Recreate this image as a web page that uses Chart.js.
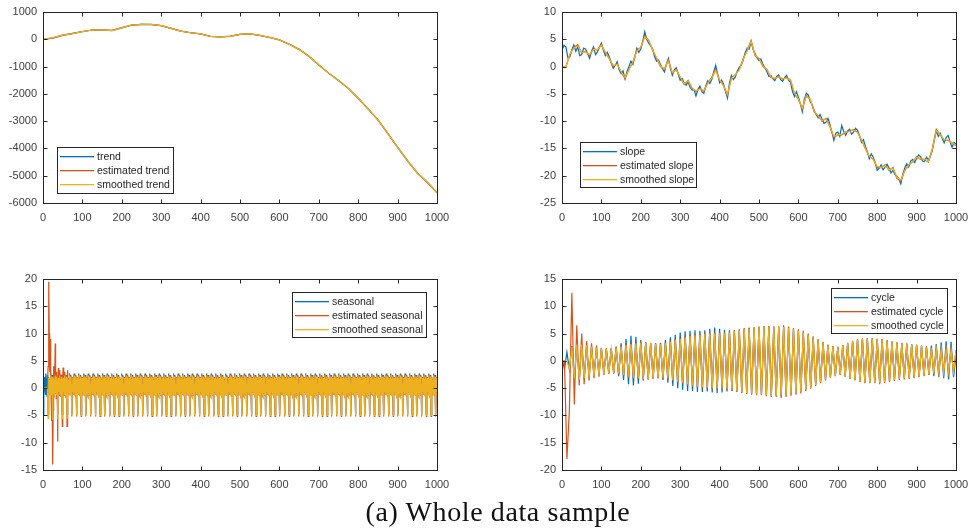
<!DOCTYPE html>
<html>
<head>
<meta charset="utf-8">
<script src="https://cdn.jsdelivr.net/npm/chart.js@4.4.1/dist/chart.umd.min.js"></script>
<style>
  body { margin: 0; background: #fff; }
  #page { position: relative; width: 968px; height: 532px; overflow: hidden; background: #fff; }
  #page canvas { position: absolute; }
  #caption { position: absolute; left: 0; top: 498px; width: 996px; text-align: center; letter-spacing: 0.6px;
    font-family: "Liberation Serif", "DejaVu Serif", serif; font-size: 28px; line-height: 28px; color: #111; }
</style>
</head>
<body>
<div id="page">
  <canvas id="trendChart" width="484" height="250" style="left:0;top:0"></canvas>
  <canvas id="slopeChart" width="484" height="250" style="left:484px;top:0"></canvas>
  <canvas id="seasonChart" width="484" height="250" style="left:0;top:250px"></canvas>
  <canvas id="cycleChart" width="484" height="250" style="left:484px;top:250px"></canvas>
  <div id="caption">(a) Whole data sample</div>
</div>
<script>
// ---- data ----

// trend, sampled every 25
const trendTrue = [0, 50, 150, 215, 285, 340, 340, 325, 425, 520, 550, 540, 500, 400, 300, 240, 195, 110, 90, 115,
  180, 195, 140, 65, -20, -180, -370, -620, -940, -1240, -1510, -1800, -2160, -2550, -2950, -3450, -3960, -4450, -4900, -5240, -5630];
const trendEst = [0, 40, 145, 210, 280, 340, 345, 320, 420, 520, 550, 545, 500, 400, 300, 240, 200, 110, 90, 110,
  180, 195, 140, 70, -20, -180, -370, -620, -940, -1240, -1510, -1800, -2160, -2550, -2950, -3450, -3960, -4450, -4900, -5230, -5620];
const trendSmooth = [0, 60, 150, 210, 280, 340, 345, 320, 420, 520, 550, 545, 500, 400, 300, 240, 200, 110, 90, 110,
  180, 195, 140, 70, -20, -180, -370, -620, -940, -1240, -1510, -1800, -2160, -2550, -2950, -3450, -3960, -4450, -4900, -5230, -5620];

// true slope, sampled every 5 (it is the noisiest line)
const slopeTrue = [
  3, 3.9, 3.6, 1.6, 1.8, 3.1, 4, 2.8, 3.6, 2.0, 2.2, 3.4, 3.2, 2.4, 1.5, 2.8, 3.6, 2.2, 2.7, 3.6,
  4.3, 3.0, 2, 2.6, 1.8, 0.6, -0.3, 0.2, 0.9, -0.6, -1.3, -0.8, -2.3, -0.9, 0, 1.0, 0.4, 1.8, 3.4, 2.6,
  3.2, 4.6, 6.4, 5.0, 4.3, 3.8, 3.3, 1.8, 1, 1.2, 0.4, -0.4, -1, 0.4, 1.5, -0.3, -1.6, -0.6, -0.2, -1.4,
  -2.5, -2.2, -3, -3.4, -2.8, -3.8, -4.3, -4.2, -5.4, -4.2, -3.6, -4.6, -4.9, -3.5, -2.6, -3.1, -2.4, -1.0, 0.2, -1.4,
  -3, -2.5, -3.2, -4.6, -5.8, -3.0, -1.6, -2.4, -1.9, -0.8, -0.1, 0.2, 1.2, 2.6, 3.4, 3.2, 4.5, 3.1, 2.4, 1.6,
  1.1, 1.4, 0.4, -0.2, -0.9, -1.8, -1.6, -2.2, -2.6, -1.8, -1.5, -2.4, -2.7, -2.0, -1.6, -2.5, -2.9, -4.6, -5.5, -4.6,
  -5.6, -6.8, -8.3, -6.0, -4.9, -5.2, -6.4, -7.0, -8, -8.8, -9.4, -8.8, -9.6, -10.4, -10.2, -9.5, -10.6, -12.0, -13.5, -12.2,
  -12, -12.8, -10.8, -11.9, -12.6, -11.8, -11.5, -12.4, -12, -11.3, -11.7, -12.6, -13.9, -13.4, -14.6, -15.6, -16.9, -16.0, -16.6, -17.6,
  -19, -18.6, -18, -18.9, -18.4, -17.9, -18.6, -19.5, -19, -19.8, -20.1, -20.6, -21.5, -19.7, -18.6, -17.8, -18.4, -17.3, -17, -17.6,
  -16.9, -16.2, -16.5, -17.3, -17.4, -16.6, -17.1, -16.4, -15.4, -13.5, -11.8, -12.8, -12.2, -13.2, -14, -13.0, -12.6, -13.8, -14.8, -13.9,
  -14.2];
// estimated and smoothed slope, sampled every 10
const slopeEst = [
  0, 0, 2.2, 3.5, 4, 2.5, 2.8, 2, 3.3, 3,
  4, 2.5, 1.5, 0, 0.5, -1, -2.2, -0.5, 0.8, 3,
  3.5, 5.6, 4.8, 3, 1.5, 0, -0.5, 1.2, -1.2, -0.5,
  -2, -3.3, -2.5, -4, -4.6, -4, -4.5, -3, -2, -0.5,
  -2.5, -3.5, -5.3, -2, -1.5, -0.5, 1.5, 3, 4.8, 2,
  1.5, 0, -0.5, -2, -2.2, -1.8, -2.3, -2, -2.5, -5,
  -6, -7.8, -5.3, -6, -8.3, -9, -10, -9.5, -11, -13,
  -12.5, -12.5, -12, -11.8, -11.5, -12, -13.5, -15, -16.5, -17,
  -18.5, -18.5, -18, -19, -18.5, -20.5, -21, -19, -18, -17.5,
  -16.5, -17, -17, -17.5, -15, -11.5, -12.5, -13.5, -13.5, -14,
  -14.5];
const slopeSmooth = [
  0, 0, 2.3, 3.4, 3.8, 2.6, 2.7, 2.2, 3.1, 3.1,
  3.9, 2.6, 1.4, 0.2, 0.4, -0.9, -2, -0.6, 0.9, 2.8,
  3.6, 5.4, 4.8, 3.1, 1.6, 0.1, -0.4, 1, -1.1, -0.6,
  -1.9, -3.2, -2.6, -3.9, -4.5, -4.1, -4.4, -3.1, -2.1, -0.7,
  -2.4, -3.5, -5.1, -2.2, -1.5, -0.6, 1.4, 2.9, 4.6, 2.1,
  1.5, 0.1, -0.5, -1.9, -2.2, -1.9, -2.2, -2.1, -2.5, -4.8,
  -6, -7.6, -5.4, -6, -8.2, -9, -9.9, -9.6, -11, -12.8,
  -12.5, -12.4, -12, -11.9, -11.6, -12.1, -13.4, -15, -16.4, -17,
  -18.3, -18.5, -18.1, -18.9, -18.6, -20.3, -20.8, -19.1, -18, -17.5,
  -16.6, -16.9, -17, -17.4, -15.1, -11.7, -12.5, -13.4, -13.5, -14,
  -14.4];

// seasonal: one 12-step period after it settles, plus the start-up periods
const seasonPatternTrue = [-4.8, 0.9, 2.0, -0.6, 1.6, -1.1, 2.7, -0.8, 1.9, -1.2, 2.4, 0.6];
const seasonPatternEst = [-5.2, 0.8, 2.0, -0.8, 1.6, -1.2, 2.5, -1.0, 1.8, -1.4, 2.2, 0.5];
const seasonPatternSmooth = [-5.0, 0.8, 1.9, -0.7, 1.5, -1.2, 2.3, -0.9, 1.7, -1.3, 2.1, 0.5];
const seasonStartEst = [
  0, 0, 0, 0, 0, 0, 0, 0, 0, 0, 0, 0,
  4, 12, 19.5, 10, 3, 6, 9, 2, -3, -6, 0, -8,
  -14, -4, 4, -1, 3, 1, 8.2, -1, 3, -2, 2.5, 0.5,
  -9.8, 0.5, 3.7, -1, 2.5, -1.5, 3.3, -1, 2.4, -1.5, 2.5, 0.5,
  -7, 0.8, 3.8, -0.8, 2, -1.3, 3, -1, 2, -1.4, 2.3, 0.5,
  -7, 0.8, 3.3, -0.8, 1.8, -1.2, 2.7, -0.9, 1.8, -1.3, 2.2, 0.5];
const seasonStartSmooth = [
  0, 0, 0, 0, 0, 0, 0, 0, 0, 0, 0, 0,
  -5.6, 0.8, 1.9, -0.7, 1.5, -1.2, 2.3, -0.9, 1.7, -1.3, 2.1, 0.5,
  -5.8, 0.8, 1.9, -0.7, 1.5, -1.2, 2.3, -0.9, 1.7, -1.3, 2.1, 0.5,
  -5.7, 0.8, 1.9, -0.7, 1.5, -1.2, 2.3, -0.9, 1.7, -1.3, 2.1, 0.5,
  -5.6, 0.8, 1.9, -0.7, 1.5, -1.2, 2.3, -0.9, 1.7, -1.3, 2.1, 0.5,
  -5.5, 0.8, 1.9, -0.7, 1.5, -1.2, 2.3, -0.9, 1.7, -1.3, 2.1, 0.5];

// cycle: peaks and troughs, one every 6.25
const cycleTrue = [
  0.5, -1.5, 1.6, -1.6, 2.7, -3.2, 3, -3.5, 3, -3.2, 2.8, -3, 2.6, -2.8, 2.4, -2.6,
  2.3, -2.4, 2.2, -2.3, 2.3, -2.3, 2.6, -2.8, 3.2, -3.5, 4.0, -4.3, 4.6, -4.5, 4.4, -4.2,
  3.8, -3.6, 3.4, -3.4, 3.2, -3.2, 3.2, -3.2, 3.3, -3.5, 3.8, -4.0, 4.3, -4.6, 4.8, -5.0,
  5.2, -5.3, 5.4, -5.5, 5.5, -5.5, 5.6, -5.7, 5.5, -5.7, 5.6, -5.6, 5.9, -5.8, 6.1, -5.9,
  5.9, -5.8, 5.7, -5.6, 5.6, -5.5, 5.6, -5.6, 5.7, -5.8, 5.9, -5.9, 6.0, -6.0, 6.0, -6.1,
  6.2, -6.2, 6.3, -6.3, 6.4, -6.4, 6.3, -6.4, 6.3, -6.4, 6.2, -6.3, 6.0, -6.2, 5.8, -6.0,
  5.5, -5.7, 5.2, -5.3, 4.8, -4.9, 4.3, -4.4, 3.8, -3.9, 3.3, -3.4, 2.9, -3.0, 2.6, -2.7,
  2.5, -2.5, 2.8, -2.8, 3.2, -3.2, 3.6, -3.5, 3.9, -3.8, 4.0, -4.0, 4.1, -4.0, 4.1, -4.0,
  4.0, -4.0, 3.9, -3.9, 3.7, -3.7, 3.5, -3.5, 3.3, -3.3, 3.2, -3.2, 3.1, -3.1, 3.0, -3.0,
  2.9, -2.9, 2.7, -2.7, 2.6, -2.6, 2.8, -2.8, 3.1, -3.0, 3.4, -3.2, 3.6, -3.4, 3.5, -3.0,
  1.0];
const cycleEst = [
  0, 0, -18, -9, 12.5, -8, 6.5, -4.5, 5, -4.3, 3.6, -3.6, 3.2, -3.2, 2.8, -2.9,
  2.4, -2.6, 2.3, -2.4, 2.3, -2.3, 2.5, -2.5, 2.8, -2.8, 3.1, -3.1, 3.3, -3.3, 3.3, -3.3,
  3.4, -3.4, 3.4, -3.4, 3.3, -3.3, 3.2, -3.2, 3.2, -3.3, 3.4, -3.4, 3.7, -3.7, 4.0, -4.0,
  4.2, -4.2, 4.5, -4.5, 4.7, -4.7, 4.9, -4.9, 5.0, -5.0, 5.1, -5.1, 5.2, -5.2, 5.2, -5.2,
  5.2, -5.2, 5.2, -5.3, 5.4, -5.5, 5.6, -5.7, 5.8, -5.9, 6.0, -6.1, 6.1, -6.2, 6.2, -6.3,
  6.3, -6.3, 6.4, -6.5, 6.4, -6.6, 6.3, -6.6, 6.3, -6.8, 6.5, -6.6, 6.3, -6.4, 6.0, -6.2,
  5.8, -6.0, 5.5, -5.5, 5.0, -5.1, 4.5, -4.6, 4.0, -4.1, 3.5, -3.6, 3.0, -3.1, 2.7, -2.8,
  2.6, -2.6, 2.9, -2.9, 3.3, -3.3, 3.7, -3.6, 4.0, -3.9, 4.1, -4.1, 4.2, -4.1, 4.2, -4.1,
  4.1, -4.3, 4.0, -4.1, 3.8, -3.9, 3.6, -3.7, 3.4, -3.5, 3.3, -3.4, 3.2, -3.3, 3.1, -3.2,
  3.0, -3.0, 2.8, -2.8, 2.6, -2.6, 2.4, -2.4, 2.3, -2.3, 2.2, -2.2, 2.1, -2.1, 2.1, -2.1,
  2.0];
const cycleSmooth = [
  0, 0, 0, -1.5, 2.5, -3.2, 3, -3.5, 3, -3.2, 2.8, -3, 2.6, -2.8, 2.4, -2.6,
  2.3, -2.5, 2.2, -2.3, 2.2, -2.2, 2.4, -2.3, 2.6, -2.6, 2.9, -2.9, 3.1, -3.1, 3.2, -3.2,
  3.3, -3.3, 3.3, -3.3, 3.2, -3.2, 3.1, -3.1, 3.1, -3.1, 3.2, -3.2, 3.5, -3.5, 3.8, -3.8,
  4.0, -4.0, 4.3, -4.3, 4.5, -4.5, 4.7, -4.7, 4.8, -4.8, 4.9, -4.9, 5.0, -5.0, 5.0, -5.0,
  5.0, -5.0, 5.0, -5.1, 5.2, -5.3, 5.4, -5.5, 5.6, -5.7, 5.8, -5.9, 5.9, -6.0, 6.0, -6.1,
  6.2, -6.2, 6.3, -6.3, 6.3, -6.4, 6.2, -6.4, 6.2, -6.3, 6.2, -6.3, 6.0, -6.2, 5.8, -6.0,
  5.5, -5.7, 5.2, -5.3, 4.8, -4.9, 4.3, -4.4, 3.8, -3.9, 3.3, -3.4, 2.9, -3.0, 2.6, -2.7,
  2.5, -2.5, 2.8, -2.8, 3.2, -3.2, 3.6, -3.5, 3.9, -3.8, 4.0, -4.0, 4.1, -4.0, 4.1, -4.0,
  4.0, -4.0, 3.9, -3.9, 3.7, -3.7, 3.5, -3.5, 3.3, -3.3, 3.2, -3.2, 3.1, -3.1, 3.0, -3.0,
  2.9, -2.9, 2.7, -2.7, 2.5, -2.5, 2.3, -2.3, 2.2, -2.2, 2.1, -2.1, 2.0, -2.0, 2.0, -2.0,
  1.9];

// x positions of the samples above
const trendX = trendSmooth.map((_, i) => i * 25);
const slopeTrueX = slopeTrue.map((_, i) => i * 5);
const slopeX = slopeSmooth.map((_, i) => i * 10);
const cycleX = cycleSmooth.map((_, i) => i * 6.25);
const seasonX = Array.from({ length: 1000 }, (_, i) => i + 1);

// seasonal series = start-up periods, then the settled period repeated
function seasonSeries(start, pattern) {
  return seasonX.map((_, i) => i < start.length ? start[i] : pattern[i % pattern.length]);
}
const seasonTrue = seasonSeries([], seasonPatternTrue);
const seasonEst = seasonSeries(seasonStartEst, seasonPatternEst);
const seasonSmooth = seasonSeries(seasonStartSmooth, seasonPatternSmooth);

// ---- drawing ----
const BLUE = '#0072BD', ORANGE = '#D95319', YELLOW = '#EDB120';
const COLORS = [BLUE, ORANGE, YELLOW];
const INK = '#262626';

Chart.defaults.font.family = '"Liberation Sans", Arial, sans-serif';
Chart.defaults.font.size = 11;
Chart.defaults.color = '#404040';

// matlab style box with inward ticks on all four sides
const boxTicks = {
  id: 'boxTicks',
  afterDraw(chart) {
    const { ctx, chartArea: a, scales } = chart;
    const L = Math.round(a.left) + 0.5, R = Math.round(a.right) + 0.5;
    const T = Math.round(a.top) + 0.5, B = Math.round(a.bottom) + 0.5;
    ctx.save();
    ctx.strokeStyle = INK;
    ctx.lineWidth = 1;
    ctx.beginPath();
    scales.x.ticks.forEach(t => {
      const px = Math.round(scales.x.getPixelForValue(t.value)) + 0.5;
      ctx.moveTo(px, B); ctx.lineTo(px, B - 4);
      ctx.moveTo(px, T); ctx.lineTo(px, T + 4);
    });
    scales.y.ticks.forEach(t => {
      const py = Math.round(scales.y.getPixelForValue(t.value)) + 0.5;
      ctx.moveTo(L, py); ctx.lineTo(L + 4, py);
      ctx.moveTo(R, py); ctx.lineTo(R - 4, py);
    });
    ctx.stroke();
    ctx.strokeRect(L, T, R - L, B - T);
    ctx.restore();
  }
};

// legend box drawn inside the axes
const boxLegend = {
  id: 'boxLegend',
  afterDraw(chart, args, opts) {
    const { ctx } = chart;
    ctx.save();
    ctx.fillStyle = '#fff';
    ctx.fillRect(opts.x, opts.y, opts.w, opts.h);
    ctx.strokeStyle = INK;
    ctx.lineWidth = 1;
    ctx.strokeRect(opts.x + 0.5, opts.y + 0.5, opts.w, opts.h);
    ctx.font = '10.5px "Liberation Sans", Arial, sans-serif';
    ctx.textBaseline = 'middle';
    chart.data.datasets.forEach((ds, i) => {
      const y = Math.round(opts.y + 9 + i * 14);
      ctx.fillStyle = COLORS[i];
      ctx.fillRect(opts.x + 3, y, 34, 1.3);
      ctx.fillStyle = INK;
      ctx.fillText(ds.label, opts.x + 40, y + 1);
    });
    ctx.restore();
  }
};

function series(label, xs, ys, color, order) {
  return {
    label: label,
    data: xs.map((x, i) => ({ x: x, y: ys[i] })),
    borderColor: color,
    borderWidth: 1.2,
    pointRadius: 0,
    tension: 0,
    order: order
  };
}

function makeChart(id, datasets, yMin, yMax, yStep, box) {
  new Chart(document.getElementById(id), {
    type: 'line',
    data: { datasets: datasets },
    options: {
      responsive: false,
      animation: false,
      events: [],
      layout: { padding: { top: box.top, right: box.right, left: 0, bottom: 0 } },
      scales: {
        x: {
          type: 'linear', min: 0, max: 1000,
          grid: { display: false, drawTicks: false },
          border: { display: false },
          ticks: { stepSize: 100, padding: 8, autoSkip: false, maxRotation: 0, callback: v => String(v) },
          afterFit(s) { s.height = box.xh; s.paddingLeft = 0; s.paddingRight = 0; }
        },
        y: {
          min: yMin, max: yMax,
          grid: { display: false, drawTicks: false },
          border: { display: false },
          ticks: { stepSize: yStep, padding: 6, autoSkip: false, callback: v => String(v) },
          afterFit(s) { s.width = box.yw; s.paddingTop = 0; s.paddingBottom = 0; }
        }
      },
      plugins: {
        legend: { display: false },
        tooltip: { enabled: false },
        boxLegend: box.legend
      }
    },
    plugins: [boxTicks, boxLegend]
  });
}

makeChart('trendChart', [
  series('trend', trendX, trendTrue, BLUE, 3),
  series('estimated trend', trendX, trendEst, ORANGE, 2),
  series('smoothed trend', trendX, trendSmooth, YELLOW, 1)
], -6000, 1000, 1000, { top: 12, right: 47, yw: 43, xh: 47, legend: { x: 57, y: 147, w: 116, h: 46 } });

makeChart('slopeChart', [
  series('slope', slopeTrueX, slopeTrue, BLUE, 3),
  series('estimated slope', slopeX, slopeEst, ORANGE, 2),
  series('smoothed slope', slopeX, slopeSmooth, YELLOW, 1)
], -25, 10, 5, { top: 12, right: 12, yw: 78, xh: 47, legend: { x: 96, y: 142, w: 116, h: 45 } });

makeChart('seasonChart', [
  series('seasonal', seasonX, seasonTrue, BLUE, 3),
  series('estimated seasonal', seasonX, seasonEst, ORANGE, 2),
  series('smoothed seasonal', seasonX, seasonSmooth, YELLOW, 1)
], -15, 20, 5, { top: 29, right: 47, yw: 43, xh: 30, legend: { x: 292, y: 42, w: 134, h: 45 } });

makeChart('cycleChart', [
  series('cycle', cycleX, cycleTrue, BLUE, 3),
  series('estimated cycle', cycleX, cycleEst, ORANGE, 2),
  series('smoothed cycle', cycleX, cycleSmooth, YELLOW, 1)
], -20, 15, 5, { top: 29, right: 12, yw: 78, xh: 30, legend: { x: 347, y: 38, w: 116, h: 45 } });
</script>
</body>
</html>
